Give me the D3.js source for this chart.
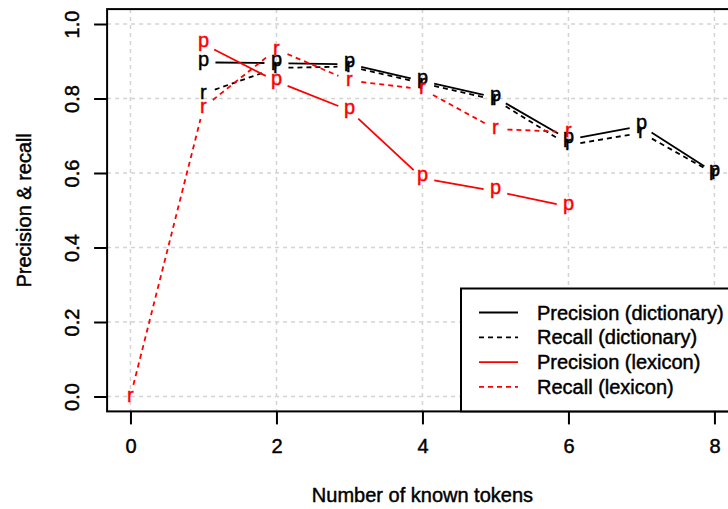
<!DOCTYPE html>
<html>
<head>
<meta charset="utf-8">
<script src="https://cdn.jsdelivr.net/npm/d3@7"></script>
<style>
  html, body { margin: 0; padding: 0; background: #fff; }
  svg { display: block; }
  text { font-family: "Liberation Sans", Arial, Helvetica, sans-serif; stroke-width: 0.45px; }
</style>
</head>
<body>
<svg id="chart" width="728" height="509"></svg>
<script>
// ---- data ----
const dictTokens = [1, 2, 3, 4, 5, 6, 7, 8];
const precisionDictionary = [0.897, 0.895, 0.892, 0.847, 0.803, 0.690, 0.726, 0.601];
const recallDictionary    = [0.813, 0.882, 0.886, 0.841, 0.796, 0.675, 0.708, 0.598];
const lexPrecTokens = [1, 2, 3, 4, 5, 6];
const precisionLexicon = [0.946, 0.846, 0.768, 0.586, 0.551, 0.510];
const lexRecTokens = [0, 1, 2, 3, 4, 5, 6];
const recallLexicon = [0.0, 0.776, 0.932, 0.848, 0.825, 0.718, 0.710];
const xTicks = [0, 2, 4, 6, 8];
const yTicks = [0.0, 0.2, 0.4, 0.6, 0.8, 1.0];
const legendLabels = ["Precision (dictionary)", "Recall (dictionary)", "Precision (lexicon)", "Recall (lexicon)"];

const series = [
  { xs: dictTokens, ys: precisionDictionary, color: "#000000", dash: null, ch: "p" },
  { xs: dictTokens, ys: recallDictionary, color: "#000000", dash: "5,4", ch: "r" },
  { xs: lexPrecTokens, ys: precisionLexicon, color: "#ff0000", dash: null, ch: "p" },
  { xs: lexRecTokens, ys: recallLexicon, color: "#ff0000", dash: "5,4", ch: "r" }
];

// ---- layout ----
const FS = 20;
const svg = d3.select("#chart");
const x = d3.scaleLinear().domain([-0.32, 8.32]).range([107.1, 737.8]);
const y = d3.scaleLinear().domain([-0.04, 1.04]).range([411.4, 9.1]);
const [L, R] = x.range();
const [B, T] = y.range();

// grid
const grid = svg.append("g");
grid.selectAll("line.v").data(xTicks).join("line")
  .attr("x1", d => x(d)).attr("x2", d => x(d)).attr("y1", T).attr("y2", B)
  .attr("stroke", "#d3d3d3").attr("stroke-width", 1.5).attr("stroke-dasharray", "4,4");
grid.selectAll("line.h").data(yTicks).join("line")
  .attr("y1", d => y(d)).attr("y2", d => y(d)).attr("x1", L).attr("x2", R)
  .attr("stroke", "#d3d3d3").attr("stroke-width", 1.5).attr("stroke-dasharray", "4,4");

// data lines with gaps (type = "b")
const GAP = 12;
const charOffset = { p: 3.2, r: 5.3 };
series.forEach(s => {
  const pts = s.xs.map((v, i) => [x(v), y(s.ys[i])]);
  const segs = [];
  for (let i = 0; i < pts.length - 1; i++) {
    const [x1, y1] = pts[i], [x2, y2] = pts[i + 1];
    const len = Math.hypot(x2 - x1, y2 - y1);
    if (len <= 2 * GAP) continue;
    const ux = (x2 - x1) / len, uy = (y2 - y1) / len;
    segs.push([x1 + ux * GAP, y1 + uy * GAP, x2 - ux * GAP, y2 - uy * GAP]);
  }
  svg.append("g").selectAll("line").data(segs).join("line")
    .attr("x1", d => d[0]).attr("y1", d => d[1]).attr("x2", d => d[2]).attr("y2", d => d[3])
    .attr("stroke", s.color).attr("stroke-width", 1.8)
    .attr("stroke-dasharray", s.dash);
  svg.append("g").selectAll("text").data(pts).join("text")
    .attr("x", d => d[0]).attr("y", d => d[1] + charOffset[s.ch])
    .attr("text-anchor", "middle").attr("font-size", FS).attr("fill", s.color)
    .attr("stroke", s.color)
    .text(s.ch);
});

// box
svg.append("rect").attr("x", L).attr("y", T).attr("width", R - L).attr("height", B - T)
  .attr("fill", "none").attr("stroke", "#000").attr("stroke-width", 2);

// axes
const xAxis = svg.append("g").attr("transform", `translate(0,${B})`)
  .call(d3.axisBottom(x).tickValues(xTicks).tickSize(13).tickSizeOuter(0).tickFormat(d3.format("d")));
xAxis.select(".domain").remove();
xAxis.selectAll("line").attr("stroke-width", 2);
xAxis.selectAll("text").attr("y", 42).attr("dy", null)
  .attr("font-size", FS).attr("font-family", "Liberation Sans, Arial, sans-serif")
  .attr("fill", "#000").attr("stroke", "#000");

const yAxis = svg.append("g").attr("transform", `translate(${L},0)`)
  .call(d3.axisLeft(y).tickValues(yTicks).tickSize(13).tickSizeOuter(0).tickFormat(d3.format(".1f")));
yAxis.select(".domain").remove();
yAxis.selectAll("line").attr("stroke-width", 2);
yAxis.selectAll("text").attr("x", null).attr("dy", null)
  .attr("text-anchor", "middle").attr("transform", "translate(-28.6,0) rotate(-90)")
  .attr("font-size", FS).attr("font-family", "Liberation Sans, Arial, sans-serif")
  .attr("fill", "#000").attr("stroke", "#000");

// axis titles
svg.append("text").attr("x", (L + R) / 2).attr("y", 501.5).attr("text-anchor", "middle")
  .attr("font-size", FS).attr("stroke", "#000").text("Number of known tokens");
svg.append("text").attr("transform", `translate(30.5,${(T + B) / 2}) rotate(-90)`)
  .attr("text-anchor", "middle").attr("font-size", FS).attr("stroke", "#000").text("Precision & recall");

// legend
const lg = svg.append("g");
const lgLeft = 461, lgTop = 288.5;
lg.append("rect").attr("x", lgLeft).attr("y", lgTop).attr("width", R - lgLeft).attr("height", B - lgTop)
  .attr("fill", "#fff").attr("stroke", "#000").attr("stroke-width", 2);
const rowY = i => 312.5 + 24.8 * i;
lg.selectAll("line").data(series).join("line")
  .attr("x1", 479).attr("x2", 518).attr("y1", (d, i) => rowY(i)).attr("y2", (d, i) => rowY(i))
  .attr("stroke", d => d.color).attr("stroke-width", 1.8).attr("stroke-dasharray", d => d.dash);
lg.selectAll("text").data(legendLabels).join("text")
  .attr("x", 537).attr("y", (d, i) => rowY(i) + 7).attr("font-size", FS)
  .attr("stroke", "#000").text(d => d);
</script>
</body>
</html>
